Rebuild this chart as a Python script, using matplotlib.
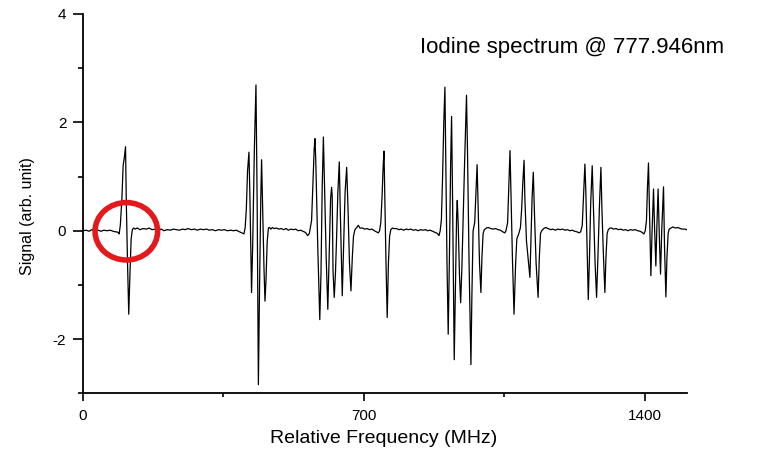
import matplotlib
matplotlib.use('Agg')
import matplotlib.pyplot as plt
from matplotlib.patches import Ellipse
from matplotlib.ticker import MultipleLocator, FuncFormatter

plt.rcParams['font.family'] = ['Liberation Sans', 'DejaVu Sans']

# Relative frequency (MHz) and signal (arb. unit)
freq = [
    0, 8, 15, 22, 30, 38, 45, 52, 60, 68, 75, 82, 88,
    # line 1 (circled)
    90, 93, 97, 100, 103, 106, 108, 111, 114, 117, 120, 123, 126, 130,
    135, 142, 150, 158, 165, 172, 180, 188, 195, 202, 210, 218, 225, 232, 240,
    248, 255, 262, 270, 278, 285, 292, 300, 308, 315, 322, 330, 338, 345, 352,
    360, 368, 375, 382, 390, 396, 401,
    # group 2
    404, 407, 410, 413.5, 416, 420, 423, 427, 431, 434, 437, 440, 443, 445,
    448, 451, 453.5, 456, 459, 462, 465, 468, 472, 476,
    482, 488, 494, 500, 506, 512, 518, 524, 530, 536, 542, 548, 554, 560,
    # group 3
    564, 569.6, 573, 576, 578, 580, 585, 590, 593, 596, 599, 602, 606, 610,
    614, 617, 619.5, 621, 623, 626, 629, 632, 635, 638.6, 641, 646, 649, 653,
    657, 660, 664, 667.7, 671, 674, 677.6, 682, 686, 690,
    696, 702, 708, 714, 720, 726, 731, 736,
    # group 4
    739, 742, 745, 748, 750, 752, 755, 758, 761, 764, 767, 771, 775,
    781, 787, 793, 799, 805, 811, 817, 823, 829, 835, 841, 847, 853, 859,
    865, 871, 877, 883, 887,
    # group 5
    890, 893, 896, 899, 901.8, 904, 907, 910, 913, 916, 918.4, 921, 923, 925,
    928, 931, 932.6, 935, 938, 941, 944, 947, 951, 955.6, 958, 962, 966.6,
    969, 972, 976, 979, 982, 985, 988, 991.5, 994, 997, 1000, 1005, 1010, 1016,
    1022, 1028, 1034, 1040, 1046, 1051,
    # group 6
    1054, 1058, 1061, 1064, 1066, 1070, 1074, 1078, 1081, 1086, 1090, 1093,
    1096, 1099, 1101, 1105, 1109, 1113.6, 1116, 1119, 1122, 1125, 1129, 1134,
    1137, 1140, 1143, 1148, 1153,
    1159, 1165, 1171, 1177, 1183, 1189, 1195, 1201, 1207, 1213, 1219, 1225,
    1231, 1236,
    # group 7
    1240, 1244, 1247, 1250.6, 1253, 1256, 1259, 1262, 1265, 1268.8, 1272,
    1276, 1279.7, 1283, 1287, 1290.5, 1293, 1297, 1300.4, 1303, 1306, 1309,
    1313, 1317, 1322,
    1328, 1334, 1340, 1346, 1352, 1358, 1364, 1370, 1376, 1382, 1388, 1393,
    1397.6,
    # group 8
    1401, 1404, 1406.5, 1409, 1412, 1415, 1418, 1421.6, 1424, 1427.4, 1430,
    1433, 1436, 1439, 1442, 1446.5, 1449, 1452.4, 1455, 1458, 1460.6, 1465,
    1470, 1476, 1482, 1488, 1494, 1500, 1503.7,
]

signal = [
    0.0, 0.01, -0.01, 0.02, 0.0, 0.01, -0.01, 0.01, 0.0, 0.01, -0.01, -0.02, -0.03,
    -0.06, 0.1, 0.6, 1.2, 1.35, 1.55, 0.5, -0.6, -1.54, -0.8, -0.15, 0.02, 0.05, 0.03,
    0.05, 0.02, 0.04, 0.03, 0.05, 0.02, 0.03, 0.01, 0.03, 0.0, 0.02, 0.01, 0.03, 0.02, 0.01,
    0.03, 0.02, 0.04, 0.02, 0.03, 0.01, 0.03, 0.02, 0.03, 0.01, 0.02, 0.0, 0.02, 0.01, 0.02,
    0.0, 0.01, 0.0, 0.01, -0.02, -0.04, -0.06,
    0.05, 0.4, 1.1, 1.45, 0.6, -1.14, -0.2, 1.5, 2.69, 0.5, -2.84, -1.0, 0.6, 1.31,
    0.3, -0.7, -1.3, -0.9, -0.2, 0.05, 0.06, 0.03, 0.06, 0.04,
    0.05, 0.03, 0.04, 0.02, 0.04, 0.01, 0.03, 0.02, 0.03, 0.0, 0.01, -0.01, -0.03, -0.09,
    -0.05, 0.19, 0.9, 1.5, 1.70, 1.3, -0.3, -1.64, -0.8, 0.8, 1.73, 0.8, -0.5, -1.45,
    -0.3, 0.6, 0.80, 0.63, -0.74, -1.23, -0.8, -0.1, 0.7, 1.27, 0.4, -1.20, -0.4, 0.7,
    1.17, 0.5, -0.6, -1.11, -0.5, -0.1, 0.02, 0.06, 0.1, 0.05,
    0.05, 0.03, 0.04, 0.02, 0.03, 0.0, -0.02, -0.04,
    0.0, 0.15, 0.6, 1.2, 1.47, 0.6, -0.6, -1.6, -0.6, -0.1, 0.02, 0.05, 0.04,
    0.04, 0.02, 0.03, 0.01, 0.03, 0.02, 0.03, 0.01, 0.02, 0.0, 0.02, 0.01, 0.02, 0.0,
    0.01, -0.01, -0.03, -0.05, -0.09,
    0.0, 0.2, 1.0, 2.0, 2.65, 1.2, -0.6, -1.91, -0.5, 1.2, 2.11, 0.5, -1.0, -2.38,
    -1.0, 0.3, 0.56, 0.1, -0.8, -1.33, -0.7, 0.19, 1.3, 2.5, 1.5, -0.6, -2.47,
    -1.2, 0.0, 0.15, 0.7, 1.22, 0.3, -0.6, -1.14, -0.5, -0.05, 0.02, 0.05, 0.06, 0.04,
    0.03, 0.04, 0.02, 0.01, -0.02, -0.04,
    0.0, 0.15, 0.8, 1.48, 0.8, -0.5, -1.54, -0.6, -0.15, -0.05, 0.06, 0.4,
    0.9, 1.30, 0.6, -0.19, -0.5, -0.86, -0.2, 0.6, 1.08, 0.3, -0.6, -1.23,
    -0.5, -0.05, 0.0, 0.04, 0.06,
    0.04, 0.02, 0.03, 0.01, 0.03, 0.02, 0.03, 0.01, 0.02, 0.0, 0.01, -0.01,
    -0.02, -0.04,
    -0.02, 0.1, 0.6, 1.23, 0.7, -0.3, -1.27, -0.5, 0.5, 1.20, 0.4,
    -0.6, -1.23, -0.5, 0.5, 1.17, 0.4, -0.5, -1.14, -0.5, -0.05, 0.02,
    0.05, 0.05, 0.03,
    0.04, 0.02, 0.03, 0.01, 0.02, 0.0, 0.02, 0.01, 0.02, 0.0, -0.01, -0.03,
    -0.06,
    0.0, 0.19, 0.8, 1.25, 0.2, -0.83, 0.0, 0.77, 0.1, -0.65, 0.1,
    0.77, -0.1, -0.80, 0.0, 0.81, -0.3, -1.22, -0.5, -0.05, 0.03, 0.05,
    0.07, 0.05, 0.06, 0.04, 0.03, 0.03, 0.02,
]

# red circle marking the first line
circle_center = (108, -0.01)
circle_size = (156, 1.06)

title_text = 'Iodine spectrum @ 777.946nm'

fig = plt.figure(figsize=(7.67, 4.54), dpi=100)
ax = fig.add_axes([0.1082, 0.1337, 0.7875, 0.8355])

ax.plot(freq, signal, color='black', linewidth=0.9)

ax.add_patch(Ellipse(circle_center, circle_size[0], circle_size[1],
                     fill=False, edgecolor='#e3191c', linewidth=4, zorder=5))

ax.set_xlim(0, 1505)
ax.set_ylim(-3, 4)

ax.xaxis.set_major_locator(MultipleLocator(700))
ax.xaxis.set_minor_locator(MultipleLocator(350))
ax.yaxis.set_major_locator(MultipleLocator(2))
ax.yaxis.set_minor_locator(MultipleLocator(1))
ax.yaxis.set_major_formatter(FuncFormatter(lambda v, p: '%d' % v))

for side in ['top', 'right']:
    ax.spines[side].set_visible(False)
for side in ['left', 'bottom']:
    ax.spines[side].set_linewidth(1.3)

ax.tick_params(axis='y', which='major', direction='out', length=7, width=1.2,
               labelsize=11, pad=5)
ax.tick_params(axis='y', which='minor', direction='out', length=3.5, width=1.2)
ax.tick_params(axis='x', which='major', direction='out', length=5.5, width=1.2,
               labelsize=11, pad=6)
ax.tick_params(axis='x', which='minor', direction='out', length=3, width=1.2)

ax.set_xlabel('Relative Frequency (MHz)', fontsize=14)
ax.set_ylabel('Signal (arb. unit)', fontsize=11.5)
ax.xaxis.set_label_coords(0.497, -0.097)
ax.yaxis.set_label_coords(-0.092, 0.467)
ax.yaxis.label.set_verticalalignment('center')

fig.text(572 / 767, 1 - 48 / 454, title_text, fontsize=16,
         ha='center', va='center')

fig.savefig('out.png', dpi=100)
